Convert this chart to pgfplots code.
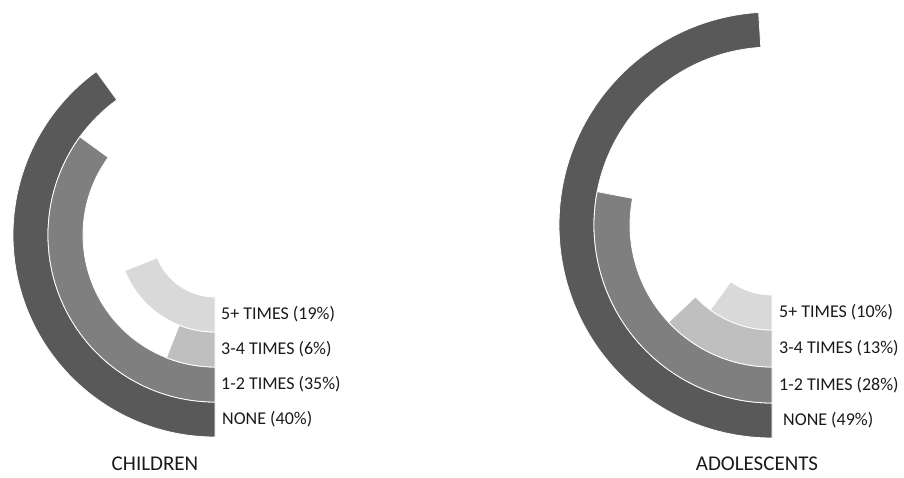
\documentclass[border=0pt]{standalone}
\usepackage{pgfplots}
\usepackage{pgfplotstable}
\pgfplotsset{compat=1.18}
\usepackage{fontspec}
\setmainfont{Carlito}

\definecolor{cNone}{HTML}{595959}
\definecolor{cOne}{HTML}{7F7F7F}
\definecolor{cThree}{HTML}{BFBFBF}
\definecolor{cFive}{HTML}{D9D9D9}
\definecolor{txt}{HTML}{1A1A1A}

% annular sector from the bottom, clockwise, pct*3.6 degrees
\pgfdeclareplotmark{annulus}{%
  \pgfmathsetmacro\endang{-90-3.6*\pct}%
  \pgfpathmoveto{\pgfpointpolar{-90}{\rout pt}}%
  \pgfpatharc{-90}{\endang}{\rout pt}%
  \pgfpathlineto{\pgfpointpolar{\endang}{\rin pt}}%
  \pgfpatharc{\endang}{-90}{\rin pt}%
  \pgfpathclose
  \pgfusepathqfillstroke
}

\pgfplotstableread{
cx  cy  pct rin rout class
215 242 40  167 202  none
215 242 35  132 167  one
215 242 6   97  132  three
215 242 19  62  97   five
}\children

\pgfplotstableread{
cx  cy  pct rin rout class
772 252 49  178 213  none
772 252 28  142 178  one
772 252 13  105 142  three
772 252 10  70  105  five
}\adolescents

\pgfplotsset{
  ring/.style={scatter, only marks, mark=annulus,
    point meta=explicit symbolic,
    scatter/classes={
      none={mark=annulus, fill=cNone, draw=white, line width=0.8pt},
      one={mark=annulus, fill=cOne, draw=white, line width=0.8pt},
      three={mark=annulus, fill=cThree, draw=white, line width=0.8pt},
      five={mark=annulus, fill=cFive, draw=white, line width=0.8pt}},
    visualization depends on={\thisrow{pct} \as \pct},
    visualization depends on={\thisrow{rin} \as \rin},
    visualization depends on={\thisrow{rout} \as \rout}}
}
\tikzset{lab/.style={anchor=west, inner sep=0pt, text=txt, font=\fontsize{18}{20}\selectfont},
  ttl/.style={inner sep=0pt, text=txt, font=\fontsize{21}{24}\selectfont}}

\begin{document}
\begin{tikzpicture}
\begin{axis}[x=1pt, y=1pt, xmin=0, xmax=904, ymin=0, ymax=477,
  hide axis, scale only axis, clip=false]
\path (axis cs:0,0) rectangle (axis cs:904,477);
\addplot[ring] table[x=cx, y=cy, meta=class] \children;
\addplot[ring] table[x=cx, y=cy, meta=class] \adolescents;

\node[lab] at (axis cs:221,163) {5+ TIMES (19\%)};
\node[lab] at (axis cs:221,128) {3-4 TIMES (6\%)};
\node[lab] at (axis cs:221,92.5) {1-2 TIMES (35\%)};
\node[lab] at (axis cs:222,58) {NONE (40\%)};

\node[lab] at (axis cs:779,165) {5+ TIMES (10\%)};
\node[lab] at (axis cs:779,129) {3-4 TIMES (13\%)};
\node[lab] at (axis cs:779,92) {1-2 TIMES (28\%)};
\node[lab] at (axis cs:783,57) {NONE (49\%)};

\node[ttl] at (axis cs:155,13) {CHILDREN};
\node[ttl] at (axis cs:757,13) {ADOLESCENTS};
\end{axis}
\end{tikzpicture}
\end{document}
